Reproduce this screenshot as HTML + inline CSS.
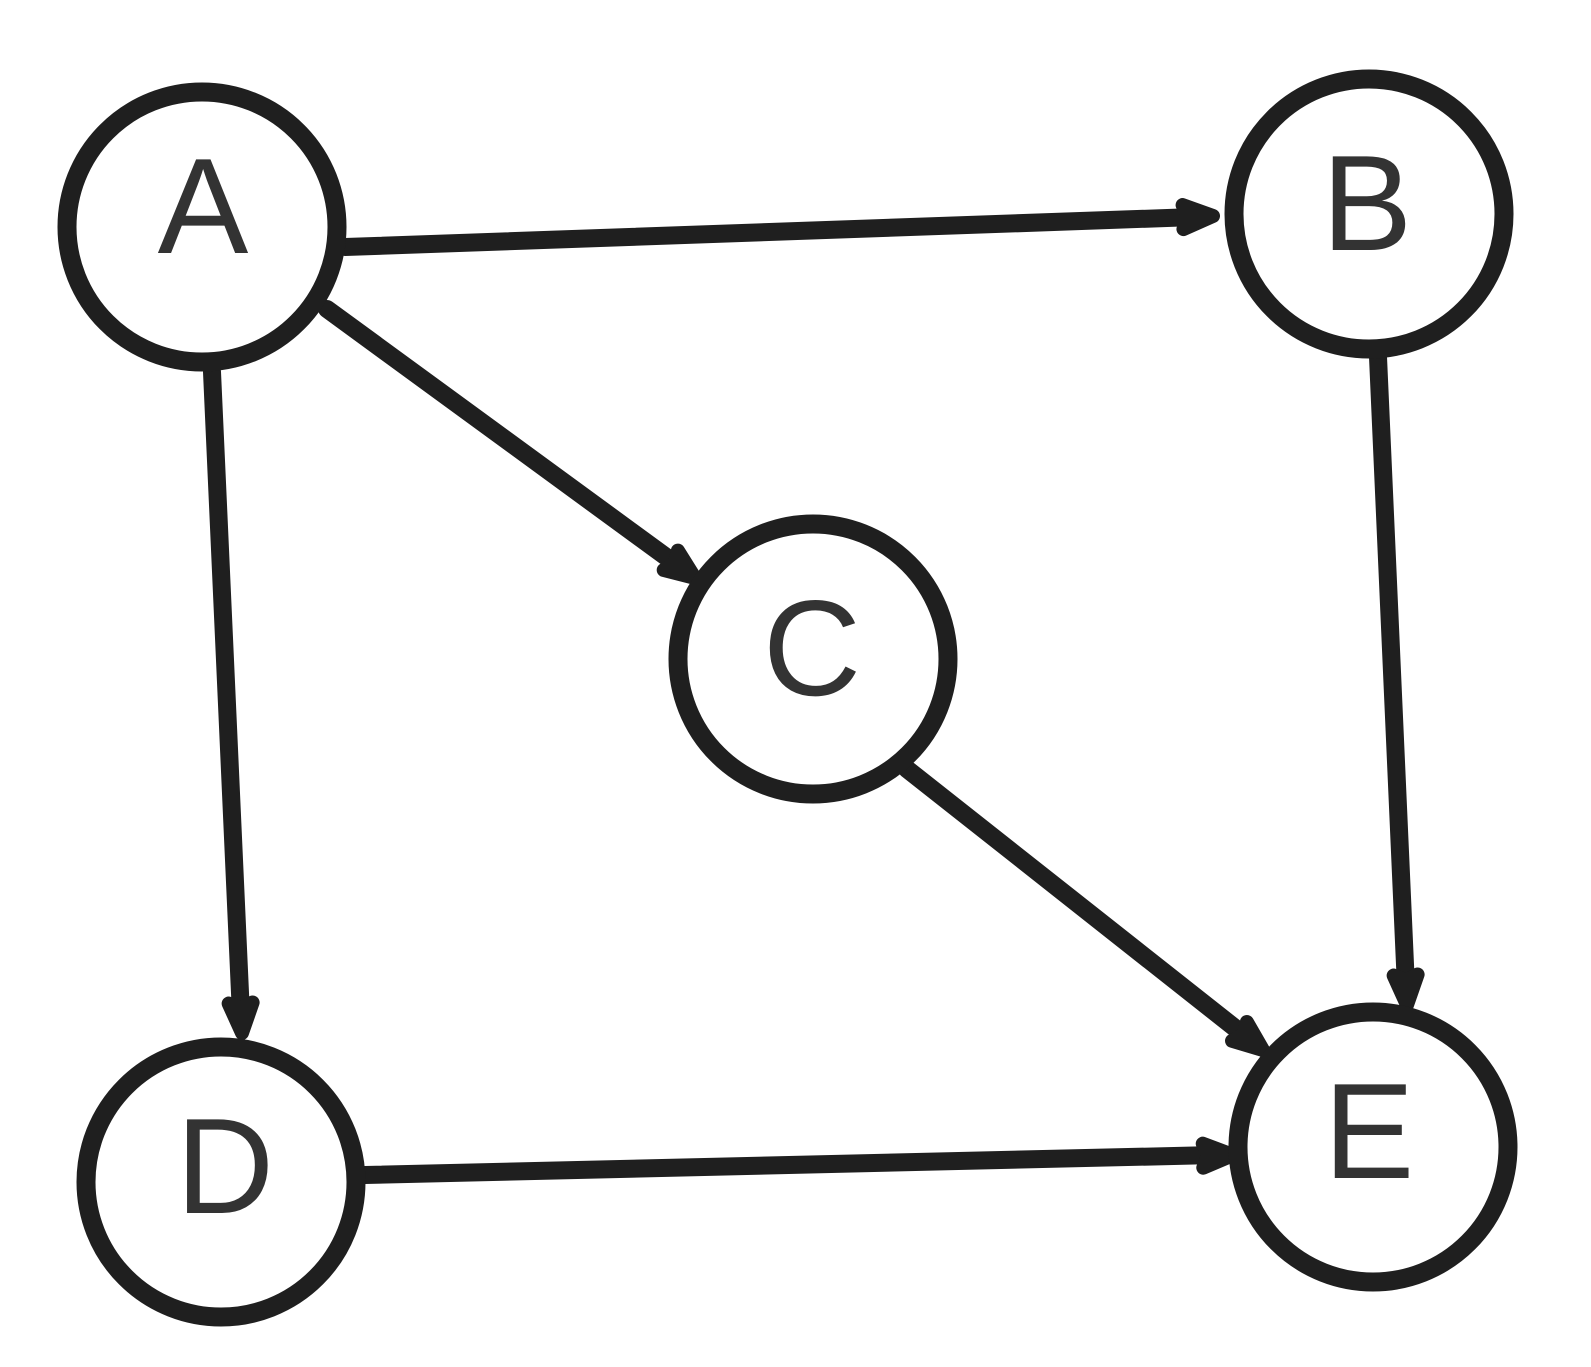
<!DOCTYPE html>
<html><head><meta charset="utf-8"><style>
html,body{margin:0;padding:0;background:#fff;}
svg{display:block;}
text{font-family:"Liberation Sans",sans-serif;font-size:136px;fill:#333;text-anchor:middle;}
</style></head><body>
<svg width="1591" height="1367" viewBox="0 0 1591 1367" xmlns="http://www.w3.org/2000/svg">
<g stroke="#1f1f1f" stroke-width="18" fill="none" stroke-linecap="round">
<line x1="345" y1="247" x2="1195" y2="217"/>
<line x1="327" y1="309" x2="680" y2="567"/>
<line x1="212" y1="372" x2="241" y2="1015"/>
<line x1="1378" y1="357" x2="1406" y2="987"/>
<line x1="907" y1="769" x2="1249" y2="1039"/>
<line x1="365" y1="1175" x2="1215" y2="1155"/>
</g>
<g fill="#1f1f1f" stroke="#1f1f1f" stroke-width="14" stroke-linejoin="round">
<polygon points="0,0 -30,-12 -25,0 -30,12" transform="translate(1213,216) rotate(-2.05)"/>
<polygon points="0,0 -30,-12 -25,0 -30,12" transform="translate(695,578) rotate(36.2)"/>
<polygon points="0,0 -30,-12 -25,0 -30,12" transform="translate(242,1033) rotate(87.4)"/>
<polygon points="0,0 -30,-12 -25,0 -30,12" transform="translate(1407,1005) rotate(87.4)"/>
<polygon points="0,0 -30,-12 -25,0 -30,12" transform="translate(1263,1050) rotate(38.3)"/>
<polygon points="0,0 -30,-12 -25,0 -30,12" transform="translate(1233,1155) rotate(-1.3)"/>
</g>
<g stroke="#1f1f1f" stroke-width="19" fill="#fff">
<circle cx="202" cy="227" r="135"/>
<circle cx="1369" cy="214" r="135"/>
<circle cx="813" cy="659" r="135"/>
<circle cx="221" cy="1182" r="135"/>
<circle cx="1373" cy="1147" r="135"/>
</g>
<text x="203" y="253">A</text>
<text x="1367" y="250">B</text>
<text x="812" y="695">C</text>
<text x="225" y="1213">D</text>
<text x="1369" y="1178">E</text>
</svg>
</body></html>
